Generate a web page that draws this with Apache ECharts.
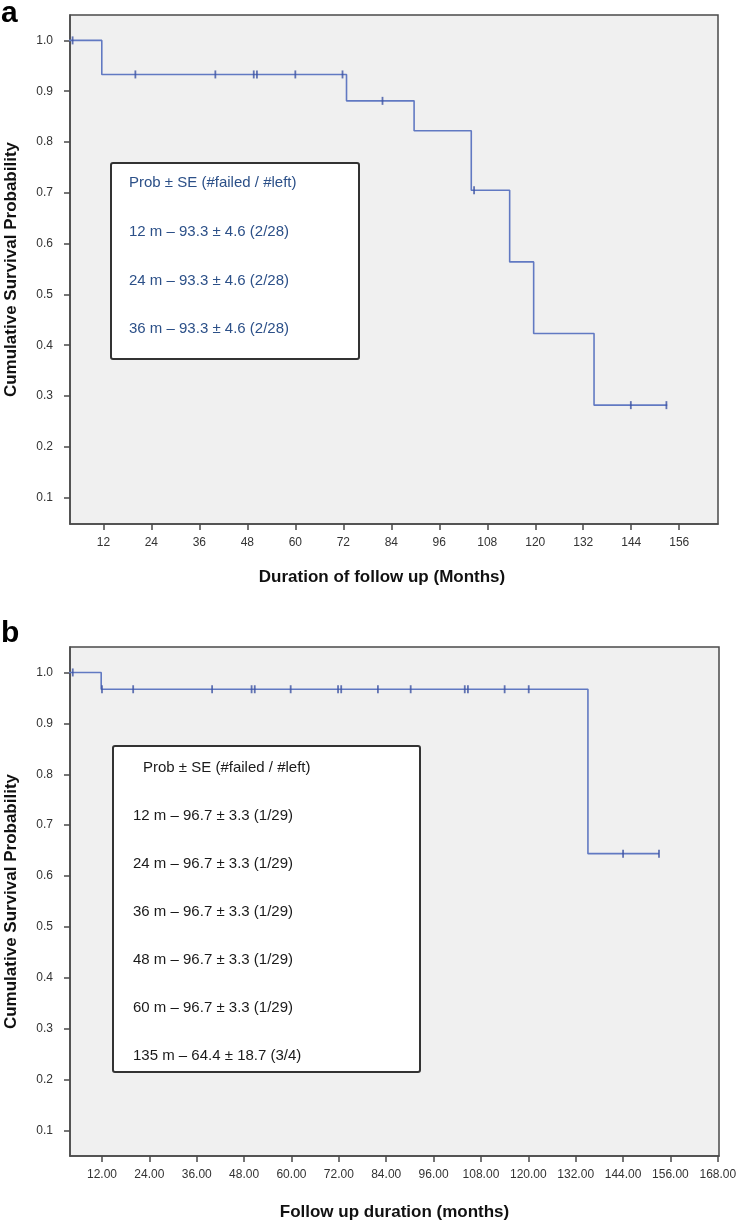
<!DOCTYPE html>
<html>
<head>
<meta charset="utf-8">
<script src="https://cdn.jsdelivr.net/npm/echarts@6/dist/echarts.min.js"></script>
<style>
html,body{margin:0;padding:0;background:#fff;}
#chart{width:737px;height:1221px;}
</style>
</head>
<body>
<div id="chart"></div>
<script>
// ---------- data ----------
const Y_TICKS = [0.1,0.2,0.3,0.4,0.5,0.6,0.7,0.8,0.9,1.0];
const X_TICKS_A = [12,24,36,48,60,72,84,96,108,120,132,144,156];
const X_TICKS_B = [12,24,36,48,60,72,84,96,108,120,132,144,156,168];

// panel a: Kaplan-Meier step curve (time of step, survival after step)
const KM_A_TIME = [0, 11.6, 72.8, 89.7, 104, 113.6, 119.6, 134.7, 153];
const KM_A_SURV = [1.0, 0.933, 0.881, 0.822, 0.705, 0.564, 0.423, 0.282, 0.282];
// panel a: censored observations
const CENS_A_TIME = [4.3, 20, 40, 49.6, 50.4, 60, 71.8, 81.8, 104.7, 143.9, 152.8];
const CENS_A_SURV = [1.0, 0.933, 0.933, 0.933, 0.933, 0.933, 0.933, 0.881, 0.705, 0.282, 0.282];

// panel b
const KM_B_TIME = [0, 11.8, 135.1, 153.1];
const KM_B_SURV = [1.0, 0.967, 0.644, 0.644];
const CENS_B_TIME = [4.6, 12.0, 19.9, 39.9, 49.9, 50.7, 59.8, 71.8, 72.6, 81.9, 90.2, 103.9, 104.7, 114, 120.1, 144, 153.1];
const CENS_B_SURV = [1.0, 0.967, 0.967, 0.967, 0.967, 0.967, 0.967, 0.967, 0.967, 0.967, 0.967, 0.967, 0.967, 0.967, 0.967, 0.644, 0.644];

const LEGEND_A = [
  'Prob \u00b1 SE (#failed / #left)',
  '12 m \u2013 93.3 \u00b1 4.6 (2/28)',
  '24 m \u2013 93.3 \u00b1 4.6 (2/28)',
  '36 m \u2013 93.3 \u00b1 4.6 (2/28)'
];
const LEGEND_B = [
  'Prob \u00b1 SE (#failed / #left)',
  '12 m \u2013 96.7 \u00b1 3.3 (1/29)',
  '24 m \u2013 96.7 \u00b1 3.3 (1/29)',
  '36 m \u2013 96.7 \u00b1 3.3 (1/29)',
  '48 m \u2013 96.7 \u00b1 3.3 (1/29)',
  '60 m \u2013 96.7 \u00b1 3.3 (1/29)',
  '135 m \u2013 64.4 \u00b1 18.7 (3/4)'
];

// ---------- styling ----------
const FONT = '"Liberation Sans", Arial, sans-serif';
const LINE_COLOR = '#6179c2';
const MARK_COLOR = '#3c52a3';
const FRAME = '#4a4a4a';

function zip(a, b) { return a.map((v, i) => [v, b[i]]); }

function xAxis(gridIndex, min, max, ticks, name, fmt, gap, pad) {
  return {
    type: 'value', gridIndex, min, max,
    name, nameLocation: 'middle', nameGap: gap,
    nameTextStyle: { fontFamily: FONT, fontWeight: 'bold', fontSize: 17, color: '#111', padding: pad },
    axisLine: { show: true, lineStyle: { color: FRAME, width: 1.5 } },
    axisTick: { show: true, customValues: ticks, length: 6, lineStyle: { color: FRAME, width: 1.5 } },
    axisLabel: { customValues: ticks, margin: 13, fontFamily: FONT, fontSize: 12, color: '#333', formatter: fmt },
    splitLine: { show: false }
  };
}
function yAxis(gridIndex, min, max) {
  return {
    type: 'value', gridIndex, min, max,
    name: 'Cumulative Survival Probability', nameLocation: 'middle', nameGap: 50, nameRotate: 90,
    nameTextStyle: { fontFamily: FONT, fontWeight: 'bold', fontSize: 17, color: '#111' },
    axisLine: { show: true, lineStyle: { color: FRAME, width: 1.5 } },
    axisTick: { show: true, customValues: Y_TICKS, length: 6, lineStyle: { color: FRAME, width: 1.5 } },
    axisLabel: { customValues: Y_TICKS, margin: 17, fontFamily: FONT, fontSize: 12, color: '#333',
      formatter: v => v.toFixed(1) },
    splitLine: { show: false }
  };
}

function legendBox(x, y, w, h, lines, firstY, step, xs, color) {
  const children = [{
    type: 'rect', shape: { x, y, width: w, height: h, r: 2 },
    style: { fill: '#fff', stroke: '#333', lineWidth: 2 }, z: 10
  }];
  lines.forEach((t, i) => {
    children.push({
      type: 'text', x: xs[i], y: firstY + i * step, z: 11,
      style: { text: t, fontFamily: FONT, fontSize: 15, fill: color, verticalAlign: 'middle', align: 'left' }
    });
  });
  return children;
}

const chart = echarts.init(document.getElementById('chart'), null, { renderer: 'canvas' });

const graphics = [
  { type: 'text', x: 1, y: 14, z: 12, style: { text: 'a', fontFamily: FONT, fontWeight: 'bold', fontSize: 30, fill: '#000', verticalAlign: 'middle' } },
  { type: 'text', x: 1, y: 634, z: 12, style: { text: 'b', fontFamily: FONT, fontWeight: 'bold', fontSize: 30, fill: '#000', verticalAlign: 'middle' } }
].concat(
  legendBox(111, 163, 248, 196, LEGEND_A, 183, 48.7, LEGEND_A.map(() => 129), '#2c5088'),
  legendBox(113, 746, 307, 326, LEGEND_B, 768, 48, LEGEND_B.map((t, i) => i === 0 ? 143 : 133), '#1a1a1a')
);

chart.setOption({
  animation: false,
  backgroundColor: '#fff',
  grid: [
    { left: 70, top: 15, width: 648, height: 509, show: true, backgroundColor: '#f0f0f0', borderColor: FRAME, borderWidth: 1.5, containLabel: false, outerBoundsMode: 'none' },
    { left: 70, top: 647, width: 649, height: 509, show: true, backgroundColor: '#f0f0f0', borderColor: FRAME, borderWidth: 1.5, containLabel: false, outerBoundsMode: 'none' }
  ],
  xAxis: [
    xAxis(0, 3.65, 165.7, X_TICKS_A, 'Duration of follow up (Months)', v => String(v), 45, [0, 24, 0, 0]),
    xAxis(1, 3.9, 168.3, X_TICKS_B, 'Follow up duration (months)', v => v.toFixed(2), 48, 0)
  ],
  yAxis: [
    yAxis(0, 0.048, 1.05),
    yAxis(1, 0.05, 1.05)
  ],
  series: [
    { type: 'line', xAxisIndex: 0, yAxisIndex: 0, step: 'end', data: zip(KM_A_TIME, KM_A_SURV),
      showSymbol: false, lineStyle: { color: LINE_COLOR, width: 1.6 }, clip: true, z: 3 },
    { type: 'scatter', xAxisIndex: 0, yAxisIndex: 0, data: zip(CENS_A_TIME, CENS_A_SURV),
      symbol: 'rect', symbolSize: [1.8, 8], itemStyle: { color: MARK_COLOR }, z: 4 },
    { type: 'line', xAxisIndex: 1, yAxisIndex: 1, step: 'end', data: zip(KM_B_TIME, KM_B_SURV),
      showSymbol: false, lineStyle: { color: LINE_COLOR, width: 1.6 }, clip: true, z: 3 },
    { type: 'scatter', xAxisIndex: 1, yAxisIndex: 1, data: zip(CENS_B_TIME, CENS_B_SURV),
      symbol: 'rect', symbolSize: [1.8, 8], itemStyle: { color: MARK_COLOR }, z: 4 }
  ],
  graphic: graphics
});
</script>
</body>
</html>
